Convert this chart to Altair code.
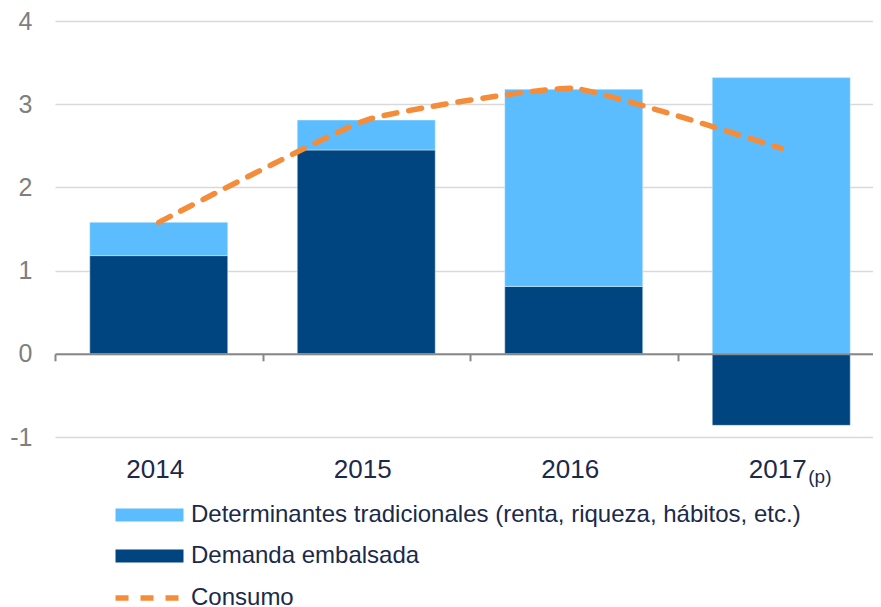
import altair as alt
import pandas as pd

years = ["2014", "2015", "2016", "2017"]
demanda = [1.18, 2.45, 0.81, -0.86]
tradicionales = [0.40, 0.36, 2.37, 3.32]
consumo = [1.58, 2.81, 3.19, 2.47]

S_TRAD = "Determinantes tradicionales (renta, riqueza, hábitos, etc.)"
S_DEM = "Demanda embalsada"
S_CONS = "Consumo"

LIGHT = "#5bbdfe"
DARK = "#00457f"
ORANGE = "#f58c3a"
TXT = "#1b2a4a"
GRAY = "#7f7f7f"
FONT = "Liberation Sans"

W = 818
H = 416
STEP = 207.5

bars = pd.DataFrame(
    [{"year": y, "serie": S_DEM, "ord": 0, "v": d} for y, d in zip(years, demanda)]
    + [{"year": y, "serie": S_TRAD, "ord": 1, "v": t} for y, t in zip(years, tradicionales)]
)
line = pd.DataFrame({"year": years, "serie": S_CONS, "v": consumo})
note = pd.DataFrame({"year": ["2017"], "t": ["(p)"]})

xscale = alt.Scale(domain=years, range=[0, 4 * STEP], paddingInner=0.335, paddingOuter=0.1675)
yscale = alt.Scale(domain=[-1, 4], nice=False, zero=False)

xaxis = alt.Axis(
    title=None, orient="bottom", offset=-H / 5, domainColor="#878787", domainWidth=2,
    tickColor="#878787", tickWidth=2, tickSize=7, tickOffset=-STEP / 2, labelOffset=STEP / 2 - 4,
    labelPadding=96, labelFont=FONT, labelFontSize=26, labelColor=TXT, labelAngle=0,
    grid=False, zindex=2,
)
yaxis = alt.Axis(
    title=None, values=[-1, 0, 1, 2, 3, 4], domain=False, ticks=False, labelPadding=23,
    labelFont=FONT, labelFontSize=25, labelColor=GRAY, grid=True, gridColor="#d9d9d9",
    gridWidth=1.5, labelExpr="'' + datum.value",
)

bar_layer = alt.Chart(bars).mark_bar(stroke="#dff1ff", strokeWidth=0.5).encode(
    x=alt.X("year:N", scale=xscale, axis=xaxis, sort=years),
    y=alt.Y("v:Q", scale=yscale, axis=yaxis, stack="zero"),
    color=alt.Color(
        "serie:N",
        scale=alt.Scale(domain=[S_TRAD, S_DEM], range=[LIGHT, DARK]),
        legend=alt.Legend(
            title=None, orient="none", legendX=82.5, legendY=482, direction="vertical",
            symbolType="M-5.23,-1H5.23V1H-5.23Z", symbolSize=169, symbolStrokeWidth=0,
            labelOffset=29.5, labelFont=FONT, labelFontSize=24, labelColor=TXT,
            rowPadding=17, padding=0, labelLimit=800,
        ),
    ),
    order=alt.Order("ord:Q"),
)

line_layer = alt.Chart(line).mark_line(
    interpolate="cardinal", tension=0.6, strokeDash=[13, 12], strokeWidth=5.5, strokeCap="round"
).encode(
    x=alt.X("year:N", scale=xscale, sort=years),
    y=alt.Y("v:Q", scale=yscale),
    stroke=alt.Stroke(
        "serie:N",
        scale=alt.Scale(domain=[S_CONS], range=[ORANGE]),
        legend=alt.Legend(
            title=None, orient="none", legendX=82.5, legendY=565, direction="vertical",
            symbolType="M-5.23,0H5.23", symbolSize=169, symbolStrokeWidth=5.5,
            symbolDash=[13, 12], symbolFillColor="transparent",
            labelOffset=29.5, labelFont=FONT, labelFontSize=24, labelColor=TXT,
            padding=0, labelLimit=800,
        ),
    ),
)

note_layer = alt.Chart(note).mark_text(
    align="left", baseline="alphabetic", dx=27, font=FONT, fontSize=19, color=TXT
).encode(
    x=alt.X("year:N", scale=xscale, sort=years),
    y=alt.value(462),
    text="t:N",
)

chart = alt.layer(bar_layer, line_layer, note_layer).resolve_scale(
    color="independent", stroke="independent"
).properties(
    width=W, height=H,
    autosize=alt.AutoSizeParams(type="none"),
    padding={"left": 47, "top": 13, "right": 0, "bottom": 170},
).configure_view(stroke=None)

chart.save("out.html", embed_options={"renderer": "svg", "actions": False})
